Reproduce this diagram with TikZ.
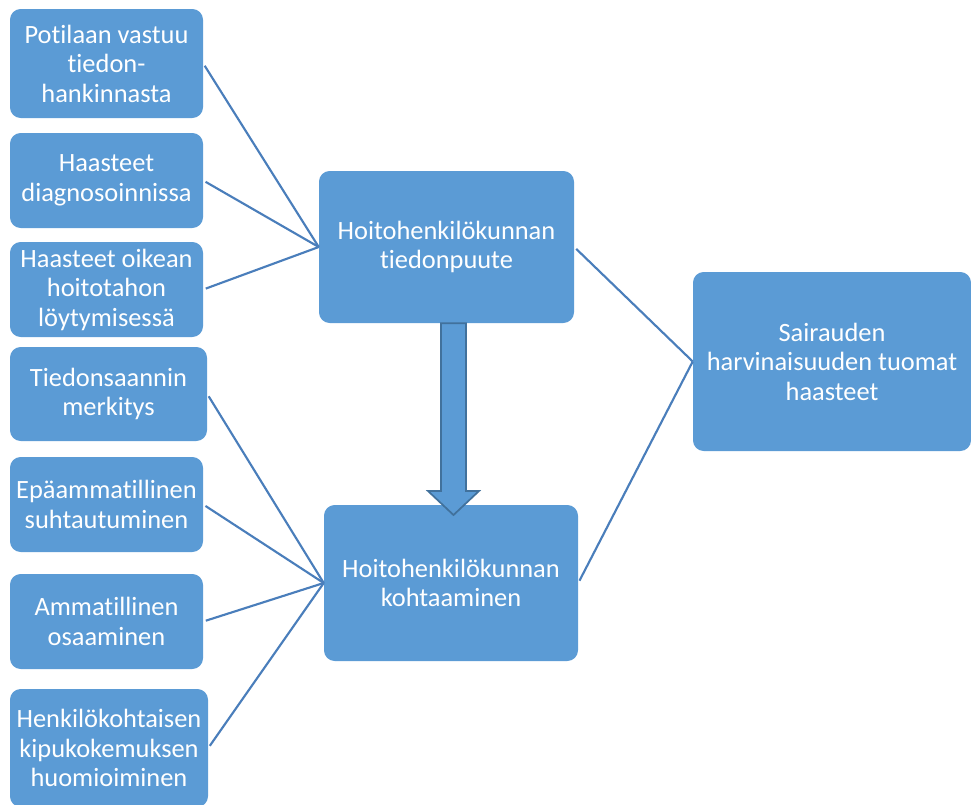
\documentclass[tikz,border=0pt]{standalone}
\usepackage{fontspec}
\setmainfont{Carlito}[Ligatures={NoCommon}]
\definecolor{boxblue}{HTML}{5B9BD5}
\definecolor{lineblue}{HTML}{4A7EBB}
\definecolor{arrowedge}{HTML}{41719C}
\tikzset{
  blk/.style={rectangle, rounded corners=8pt, fill=boxblue, text=white, align=center, inner sep=2pt,
    font=\fontsize{19.8}{22.1}\selectfont},
  conn/.style={lineblue, line width=1.6pt, shorten <=2pt},
  blockarr/.style={fill=boxblue, draw=arrowedge, line width=1.3pt, line join=miter}
}
\begin{document}
\begin{tikzpicture}[x=0.75pt, y=-0.75pt]
\useasboundingbox (0,0) rectangle (971,804);

% linke Spalte
\node[blk, minimum width=144.75pt, minimum height=81.75pt] (pot) at (106.5,63.5) {Potilaan vastuu\\tiedon-\\hankinnasta};
\node[blk, minimum width=144.75pt, minimum height=71.25pt] (diag) at (106.5,180.5) {Haasteet\\diagnosoinnissa};
\node[blk, minimum width=144.75pt, minimum height=71.25pt] (hoito) at (106.5,289.5) {Haasteet oikean\\hoitotahon\\löytymisessä};
\node[blk, minimum width=147.75pt, minimum height=70.5pt] (saanti) at (108.5,394) {Tiedonsaannin\\merkitys};
\node[blk, minimum width=144.75pt, minimum height=71.25pt] (epaam) at (106.5,504.5) {Epäammatillinen\\suhtautuminen};
\node[blk, minimum width=144.75pt, minimum height=71.25pt] (osaam) at (106.5,621.5) {Ammatillinen\\osaaminen};
\node[blk, minimum width=148.5pt, minimum height=88.5pt] (kipu) at (109,748) {Henkilökohtaisen\\kipukokemuksen\\huomioiminen};

% Mitte und rechts
\node[blk, minimum width=191.25pt, minimum height=114pt] (puute) at (446.5,247) {Hoitohenkilökunnan\\tiedonpuute};
\node[blk, minimum width=190.5pt, minimum height=117pt] (kohtaa) at (451,583) {Hoitohenkilökunnan\\kohtaaminen};
\node[blk, minimum width=208.5pt, minimum height=134.25pt] (harv) at (832,361.5) {Sairauden\\harvinaisuuden tuomat\\haasteet};

% Verbindungen
\draw[conn] (pot.east) -- (puute.west);
\draw[conn] (diag.east) -- (puute.west);
\draw[conn] (hoito.east) -- (puute.west);
\draw[conn] (saanti.east) -- (kohtaa.west);
\draw[conn] (epaam.east) -- (kohtaa.west);
\draw[conn] (osaam.east) -- (kohtaa.west);
\draw[conn] (kipu.east) -- (kohtaa.west);
\draw[conn] (puute.east) -- (harv.west);
\draw[conn] (kohtaa.east) -- (harv.west);

% Blockpfeil
\draw[blockarr] (441,0 |- puute.south) -- (441,491) -- (428,491) -- (453.5,515)
  -- (479,491) -- (466,491) -- (466,0 |- puute.south) -- cycle;
\end{tikzpicture}
\end{document}
